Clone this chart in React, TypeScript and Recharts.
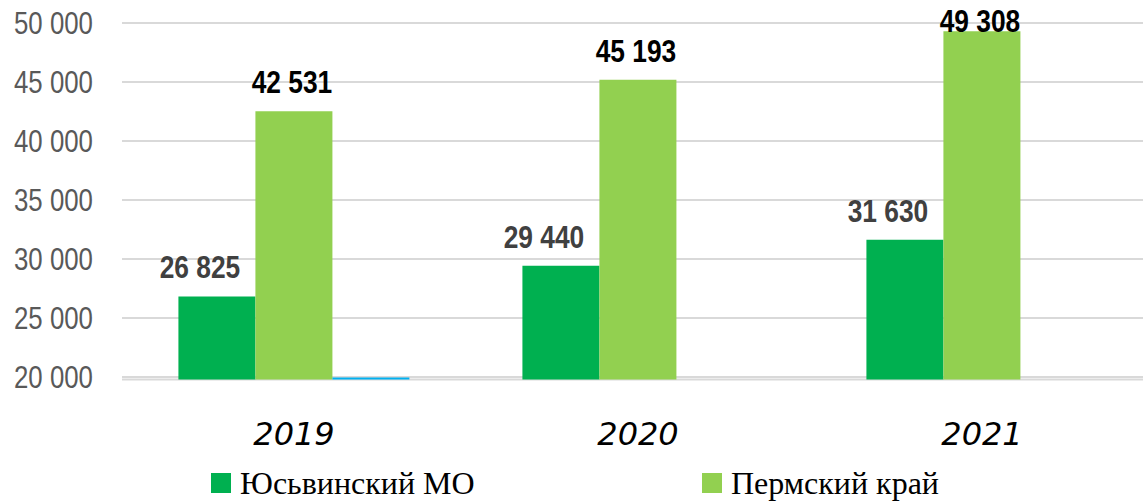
import { BarChart, Bar, XAxis, YAxis, CartesianGrid, LabelList, Legend } from 'recharts';

const YEARS = ['2019', '2020', '2021'];
const YUSVA_MO = [26825, 29440, 31630];
const PERM_KRAI = [42531, 45193, 49308];
// third (unlabelled) series, only a sliver below the 20 000 line in 2019
const EXTRA = [19850, null, null];
const Y_TICKS = [20000, 25000, 30000, 35000, 40000, 45000, 50000];

const SERIES_NAMES = ['Юсьвинский МО', 'Пермский край'];
const COLORS = ['#00b050', '#92d050', '#00b0f0'];

const data = YEARS.map((year, i) => ({
  year,
  yusva: YUSVA_MO[i],
  perm: PERM_KRAI[i],
  extra: EXTRA[i],
}));

const SANS = "'Liberation Sans', Arial, sans-serif";

function fmt(v: number) {
  return String(v).replace(/\B(?=(\d{3})+(?!\d))/g, ' ');
}

// no Arial Narrow here, so squeeze Liberation Sans to the same width
function narrowLength(s: string, size: number, ratio: number) {
  let w = 0;
  for (const ch of s) w += ch === ' ' ? 0.278 : 0.556;
  return w * size * ratio;
}

function YTick({ x, y, payload }: any) {
  const s = fmt(payload.value);
  return (
    <text
      x={x}
      y={y}
      dy="0.36em"
      textAnchor="end"
      fill="#595959"
      fontSize={31.5}
      fontFamily={SANS}
      textLength={narrowLength(s, 31.5, 0.82)}
      lengthAdjust="spacingAndGlyphs"
    >
      {s}
    </text>
  );
}

function XTick({ x, y, payload }: any) {
  return (
    <text
      x={x}
      y={y + 66}
      textAnchor="middle"
      fill="#000"
      fontSize={32}
      fontStyle="italic"
      fontFamily="'Segoe Print', 'Comic Sans MS', 'DejaVu Sans', cursive"
    >
      {payload.value}
    </text>
  );
}

function makeLabel(color: string, dx: number) {
  return ({ x, y, width, value }: any) => {
    if (value == null) return null;
    // keep labels inside the chart, like the original clamps the 49 308 one
    const base = Math.max(y - 18, 32);
    const s = fmt(value);
    return (
      <text
        x={x + width / 2 + dx}
        y={base}
        textAnchor="middle"
        fill={color}
        fontSize={31}
        fontWeight="bold"
        fontFamily={SANS}
        textLength={narrowLength(s, 31, 0.85)}
        lengthAdjust="spacingAndGlyphs"
      >
        {s}
      </text>
    );
  };
}

function LegendBox() {
  const lefts = [211, 702];
  return (
    <div style={{ position: 'relative', height: 42, width: '100%' }}>
      {SERIES_NAMES.map((name, i) => (
        <div
          key={name}
          style={{
            position: 'absolute',
            left: lefts[i],
            top: 3,
            height: 42,
            display: 'flex',
            alignItems: 'center',
            whiteSpace: 'nowrap',
          }}
        >
          <span style={{ display: 'inline-block', width: 20, height: 20, background: COLORS[i], marginRight: 9 }} />
          <span style={{ fontFamily: "'Liberation Serif', 'Times New Roman', serif", fontSize: 32, color: '#000' }}>
            {name}
          </span>
        </div>
      ))}
    </div>
  );
}

export default function App() {
  return (
    <div style={{ position: 'absolute', left: 0, top: 0, width: 1143, height: 501, overflow: 'hidden', background: '#fff' }}>
      <BarChart
        width={1154}
        height={501}
        data={data}
        margin={{ top: 23, right: 0, bottom: 0, left: 0 }}
        barCategoryGap="16.4%"
        barGap={0}
      >
        <CartesianGrid horizontal vertical={false} stroke="#d9d9d9" strokeWidth={2} />
        <XAxis dataKey="year" height={79.6} axisLine={false} tickLine={false} tickSize={0} tickMargin={0} tick={<XTick />} />
        <YAxis
          width={122}
          domain={[19800, 50000]}
          ticks={Y_TICKS}
          interval={0}
          axisLine={false}
          tickLine={false}
          tickSize={0}
          tickMargin={29}
          tick={<YTick />}
        />
        <Legend verticalAlign="bottom" height={42} content={<LegendBox />} />
        <Bar dataKey="yusva" name={SERIES_NAMES[0]} fill={COLORS[0]} isAnimationActive={false}>
          <LabelList dataKey="yusva" content={makeLabel('#404040', -17)} />
        </Bar>
        <Bar dataKey="perm" name={SERIES_NAMES[1]} fill={COLORS[1]} isAnimationActive={false}>
          <LabelList dataKey="perm" content={makeLabel('#000000', -2)} />
        </Bar>
        <Bar
          dataKey="extra"
          fill={COLORS[2]}
          legendType="none"
          minPointSize={(v: any) => (v == null ? 0 : 2)}
          isAnimationActive={false}
        />
      </BarChart>
    </div>
  );
}
